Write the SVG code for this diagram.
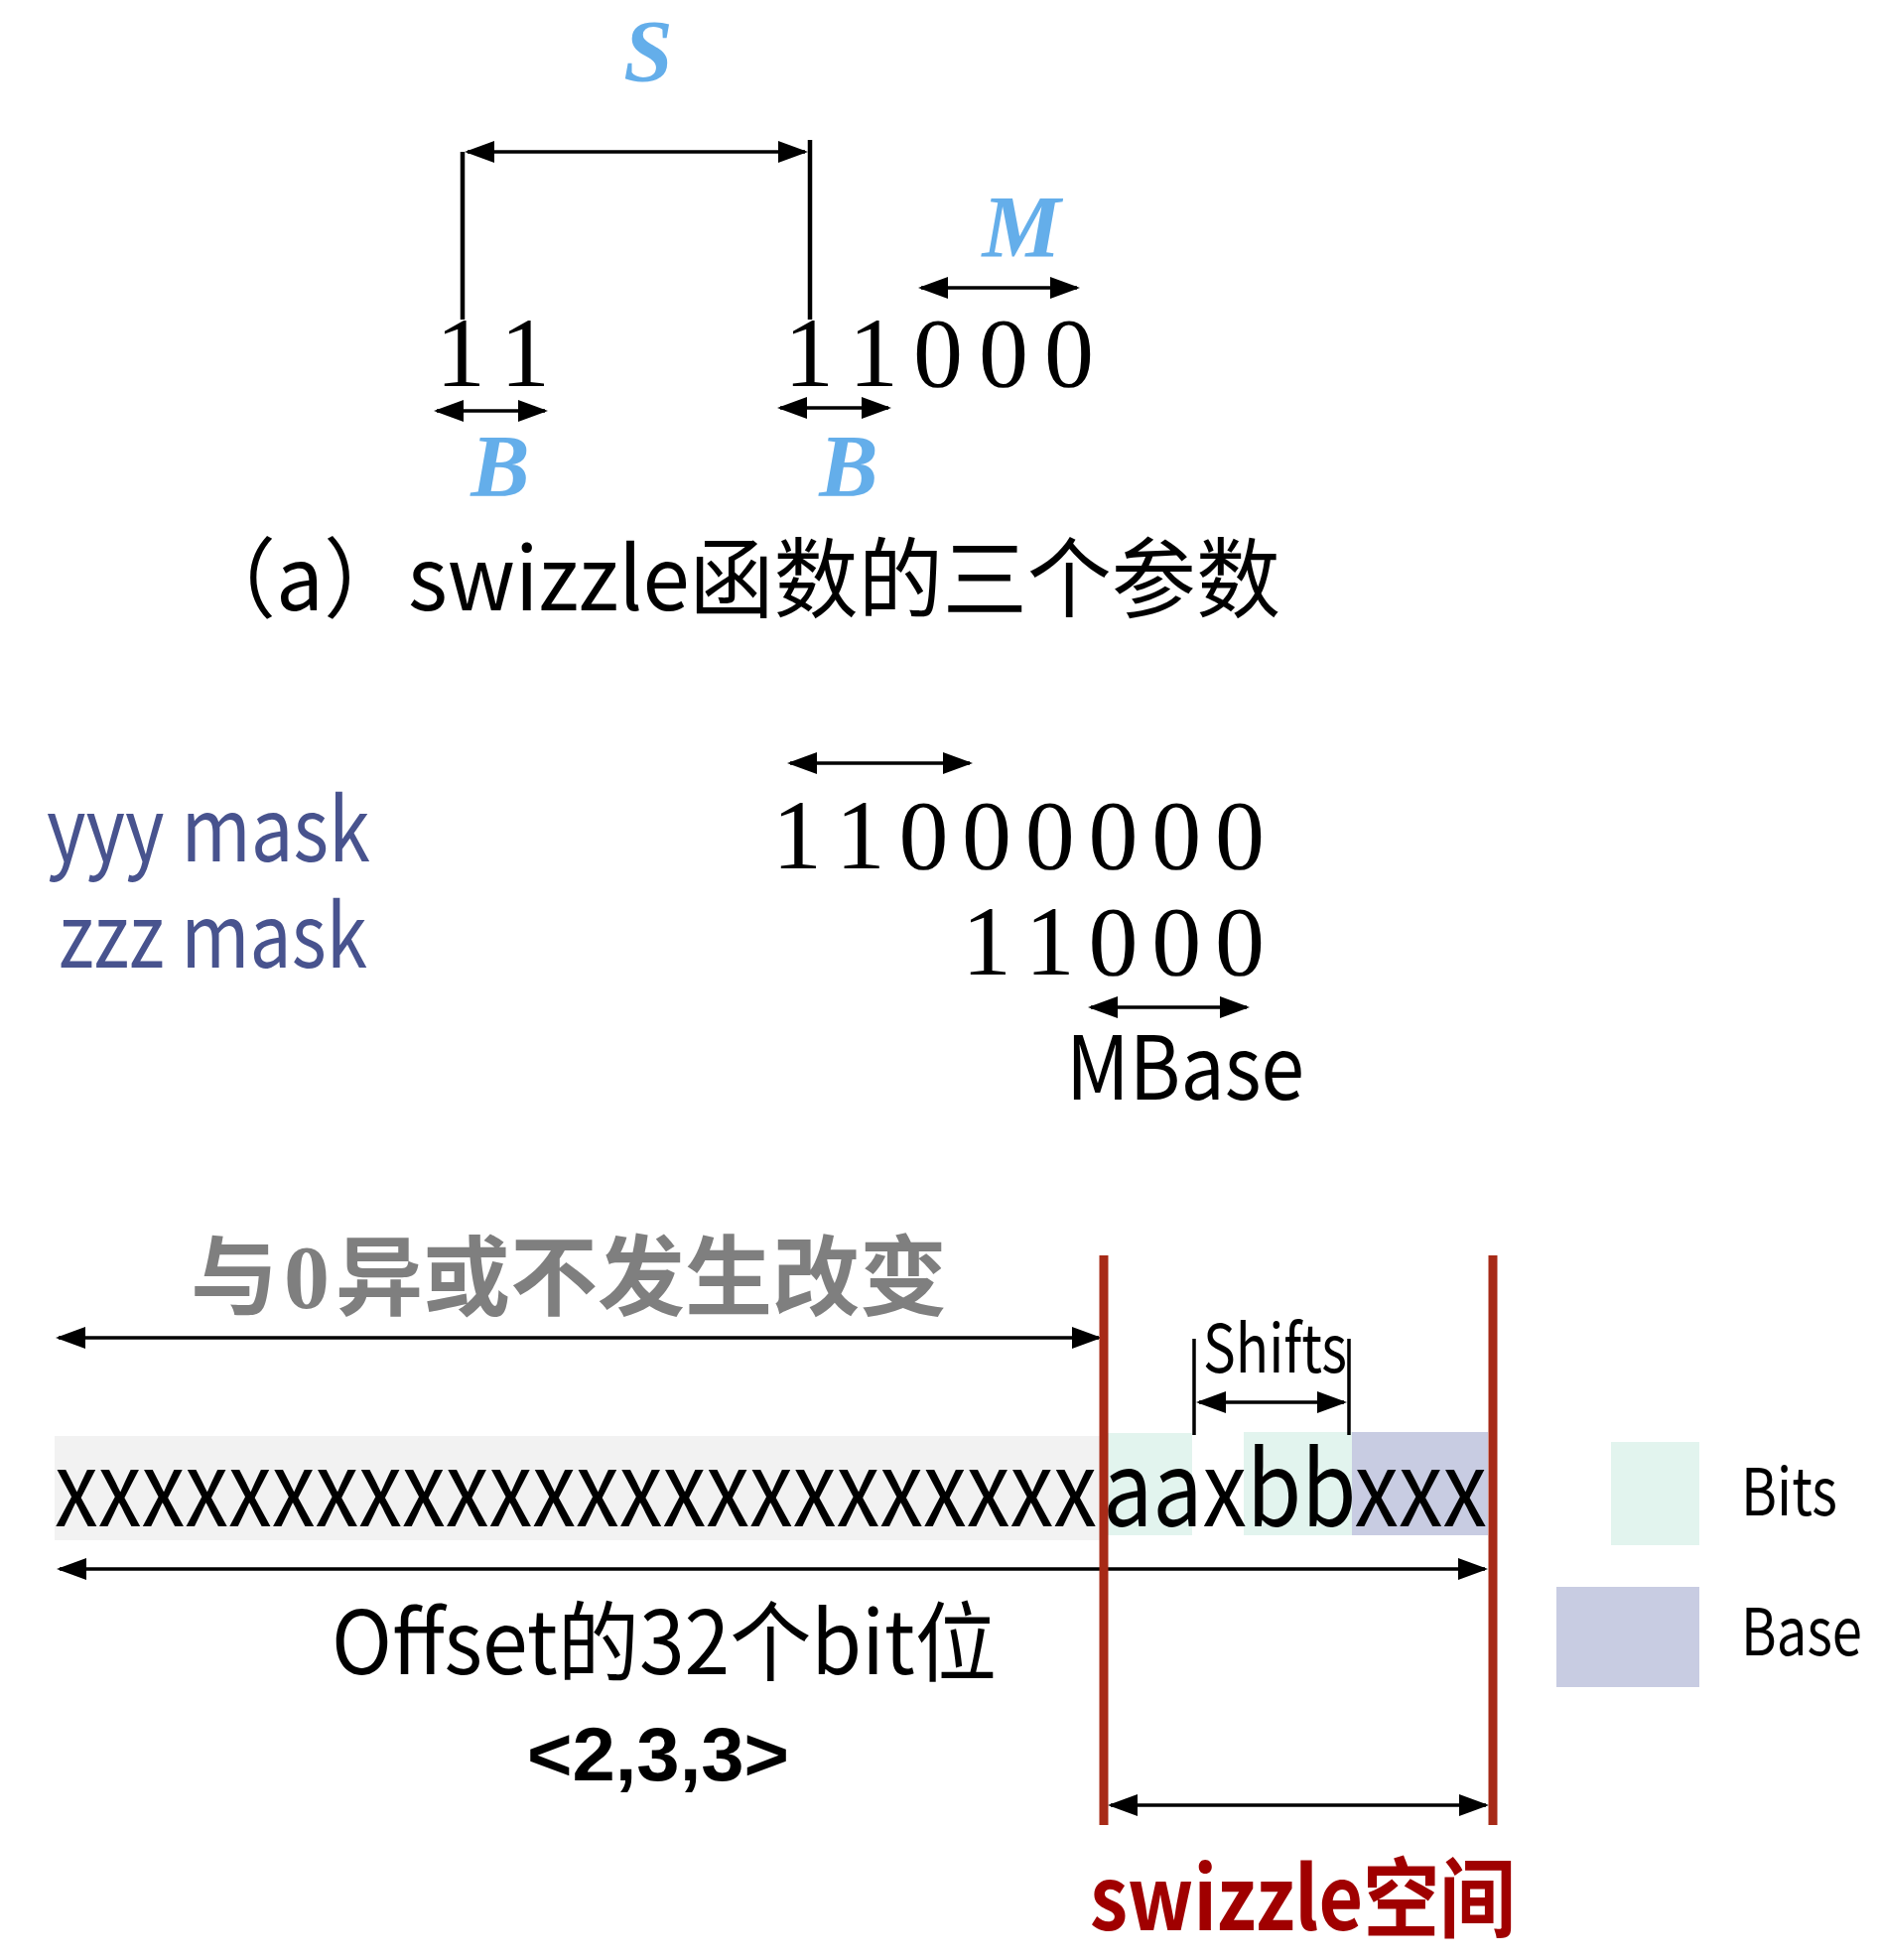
<svg xmlns="http://www.w3.org/2000/svg" width="1894" height="1975" viewBox="0 0 1894 1975">
<defs>
<marker id="ah" markerUnits="userSpaceOnUse" markerWidth="30" markerHeight="22" refX="27" refY="11" orient="auto-start-reverse"><path d="M0,0 L30,11 L0,22 Z" fill="#000"/></marker>
</defs>
<style>
.sans{font-family:"Noto Sans CJK SC","Noto Sans",sans-serif;fill:#000}
.lbl{font-family:"Liberation Serif","DejaVu Serif",serif;font-weight:bold;font-style:italic;fill:#64AEEA;font-size:89px;text-anchor:middle}
.dig{font-family:"Liberation Serif","DejaVu Serif",serif;font-size:100px;fill:#000;text-anchor:middle}
.arr{stroke:#000;stroke-width:3.5;fill:none;marker-start:url(#ah);marker-end:url(#ah)}
.tick{stroke:#000;stroke-width:4.5}
.tick2{stroke:#000;stroke-width:3.5}
.red{stroke:#A72A17;stroke-width:9}
.mask{fill:#48538E}
.bits{fill:#E2F4EE}
.base{fill:#C8CCE2}
</style>
<rect width="1894" height="1975" fill="#fff"/>

<g id="offset-row">
<rect x="55" y="1447" width="1057" height="105" fill="#F2F2F2"/>
<rect class="bits" x="1112" y="1444" width="89" height="103"/>
<rect class="bits" x="1253" y="1443" width="109" height="104"/>
<rect class="base" x="1362" y="1443" width="137" height="104"/>
<text class="sans" x="55" y="1538" font-size="105" textLength="1050" lengthAdjust="spacingAndGlyphs">xxxxxxxxxxxxxxxxxxxxxxxx</text>
<text class="sans" x="1111" y="1538" font-size="105" textLength="387" lengthAdjust="spacingAndGlyphs">aaxbbxxx</text>
</g>

<g id="label-S"><text class="lbl" x="653" y="81">S</text></g>
<g id="label-M"><text class="lbl" x="1029" y="258">M</text></g>
<g id="label-B1"><text class="lbl" x="504" y="499">B</text></g>
<g id="label-B2"><text class="lbl" x="855" y="499">B</text></g>

<g id="bits-top-left"><text class="dig" x="464 529" y="389">11</text></g>
<g id="bits-top-right"><text class="dig" x="815 880 945 1011 1077" y="389">11000</text></g>

<g id="caption-a"><text class="sans" x="193" y="615" font-size="88" textLength="1097" lengthAdjust="spacingAndGlyphs">（a）swizzle函数的三个参数</text></g>

<g id="yyy-mask">
<text class="sans mask" x="47" y="868" font-size="88" textLength="326" lengthAdjust="spacingAndGlyphs">yyy mask</text>
<text class="dig" x="803 866.7 930.4 994.1 1057.8 1121.5 1185.2 1248.9" y="875">11000000</text>
</g>
<g id="zzz-mask">
<text class="sans mask" x="59" y="975" font-size="88" textLength="311" lengthAdjust="spacingAndGlyphs">zzz mask</text>
<text class="dig" x="994.1 1057.8 1121.5 1185.2 1248.9" y="982">11000</text>
</g>
<g id="mbase"><text class="sans" x="1074" y="1108" font-size="88" textLength="240" lengthAdjust="spacingAndGlyphs">MBase</text></g>

<g id="xor-label"><text class="sans" x="192" y="1318" font-size="88" font-weight="bold" style="fill:#7F7F7F">与<tspan font-family="Liberation Serif, serif" font-size="92" dx="6">0</tspan><tspan dx="6">异或不发生改变</tspan></text></g>

<g id="shifts-label"><text class="sans" x="1212" y="1383" font-size="67" textLength="145" lengthAdjust="spacingAndGlyphs">Shifts</text></g>

<g id="legend-bits">
<rect class="bits" x="1623" y="1453" width="89" height="104"/>
<text class="sans" x="1754" y="1527" font-size="66" textLength="97" lengthAdjust="spacingAndGlyphs">Bits</text>
</g>
<g id="legend-base">
<rect class="base" x="1568" y="1599" width="144" height="101"/>
<text class="sans" x="1754" y="1668" font-size="66" textLength="122" lengthAdjust="spacingAndGlyphs">Base</text>
</g>

<g id="offset-label"><text class="sans" x="334" y="1687" font-size="88" textLength="670" lengthAdjust="spacingAndGlyphs">Offset的32个bit位</text></g>
<g id="params-label"><text x="531" y="1794" font-family="Liberation Sans, Arial, sans-serif" font-weight="bold" font-size="76" textLength="264" lengthAdjust="spacingAndGlyphs">&lt;2,3,3&gt;</text></g>
<g id="swizzle-space-label"><text class="sans" x="1098" y="1945" font-size="88" font-weight="bold" style="fill:#A00000" textLength="429" lengthAdjust="spacingAndGlyphs">swizzle空间</text></g>

<g id="connectors">
<line class="tick" x1="466" y1="153" x2="466" y2="322"/>
<line class="tick" x1="816" y1="141" x2="816" y2="322"/>
<line class="arr" x1="471" y1="153" x2="811" y2="153"/>
<line class="arr" x1="928" y1="290" x2="1085" y2="290"/>
<line class="arr" x1="440" y1="414" x2="549" y2="414"/>
<line class="arr" x1="786" y1="411" x2="895" y2="411"/>
<line class="arr" x1="796" y1="769" x2="977" y2="769"/>
<line class="arr" x1="1099" y1="1015" x2="1256" y2="1015"/>
<line class="arr" x1="59" y1="1348" x2="1107" y2="1348"/>
<line class="tick2" x1="1203" y1="1349" x2="1203" y2="1446"/>
<line class="tick2" x1="1359" y1="1349" x2="1359" y2="1446"/>
<line class="arr" x1="1208" y1="1413" x2="1354" y2="1413"/>
<line class="arr" x1="60" y1="1581" x2="1496" y2="1581"/>
<line class="arr" x1="1119" y1="1819" x2="1497" y2="1819"/>
</g>

<g id="swizzle-bounds">
<line class="red" x1="1112" y1="1265" x2="1112" y2="1839"/>
<line class="red" x1="1504" y1="1265" x2="1504" y2="1839"/>
</g>
</svg>
